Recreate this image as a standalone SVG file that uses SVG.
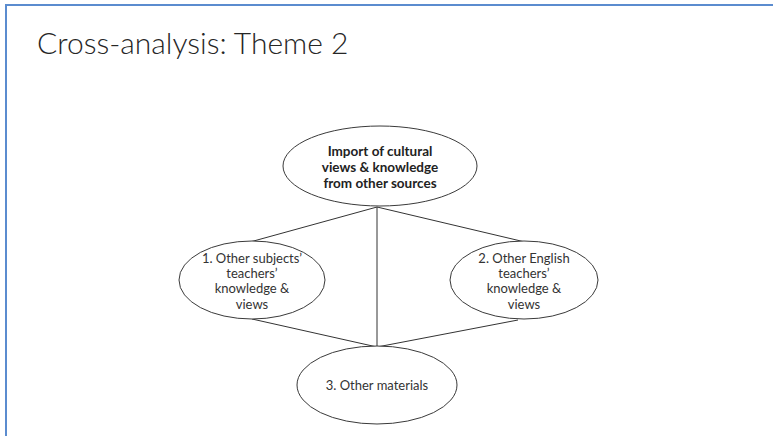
<svg xmlns="http://www.w3.org/2000/svg" width="773" height="436" viewBox="0 0 773 436">
  <style>
    .frame { stroke: #5b8ccf; stroke-width: 2; fill: none; }
    .node ellipse { fill: #ffffff; stroke: #3a3a3a; stroke-width: 1; }
    .node text { font-family: Lato, "Liberation Sans", sans-serif; font-size: 13px; fill: #333333; text-anchor: middle; }
    .node text.bold { font-weight: bold; font-size: 13.5px; fill: #222222; }
    .links line { stroke: #333333; stroke-width: 1; }
    .title { font-family: Lato, "Liberation Sans", sans-serif; font-weight: 300; font-size: 30px; fill: #262626; }
  </style>
  <rect width="773" height="436" fill="#ffffff"/>
  <!-- slide frame: top and left edges only -->
  <line class="frame" x1="5" y1="5" x2="773" y2="5"/>
  <line class="frame" x1="6" y1="4" x2="6" y2="436"/>

  <text class="title" x="37" y="54">Cross-analysis: Theme 2</text>

  <g class="links">
    <line x1="377" y1="207" x2="377" y2="347"/>
    <line x1="377" y1="207" x2="250" y2="242"/>
    <line x1="377" y1="207" x2="525" y2="242"/>
    <line x1="252" y1="319" x2="377" y2="347"/>
    <line x1="518" y1="320" x2="377" y2="347"/>
  </g>

  <g id="import" class="node">
    <ellipse cx="380" cy="166" rx="97" ry="40"/>
    <text class="bold" x="380" y="156">Import of cultural</text>
    <text class="bold" x="380" y="172">views &amp; knowledge</text>
    <text class="bold" x="380" y="188">from other sources</text>
  </g>

  <g id="subjects" class="node">
    <ellipse cx="252" cy="280" rx="73" ry="39"/>
    <text x="252" y="263">1. Other subjects’</text>
    <text x="252" y="278">teachers’</text>
    <text x="252" y="293">knowledge &amp;</text>
    <text x="252" y="309">views</text>
  </g>

  <g id="english" class="node">
    <ellipse cx="524" cy="280" rx="74" ry="39"/>
    <text x="524" y="263">2. Other English</text>
    <text x="524" y="278">teachers’</text>
    <text x="524" y="293">knowledge &amp;</text>
    <text x="524" y="309">views</text>
  </g>

  <g id="materials" class="node">
    <ellipse cx="377" cy="385" rx="80" ry="39"/>
    <text x="377" y="390">3. Other materials</text>
  </g>
</svg>
